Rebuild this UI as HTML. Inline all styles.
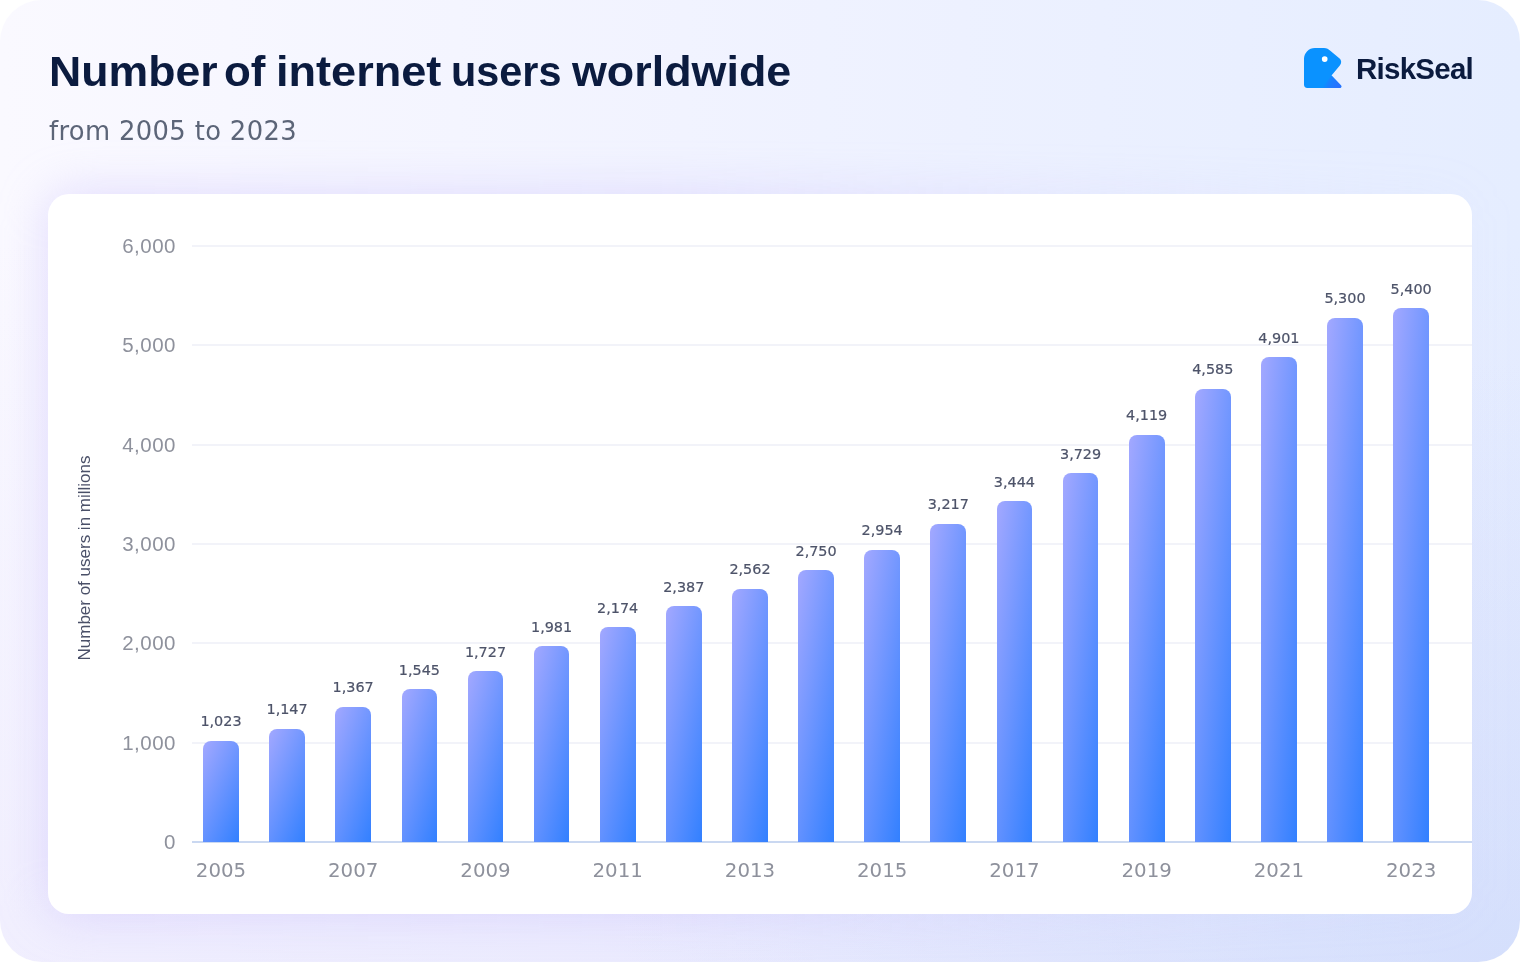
<!DOCTYPE html>
<html lang="en"><head><meta charset="utf-8"><title>Number of internet users worldwide</title>
<style>
html,body{margin:0;padding:0;background:#fff;}
body{width:1520px;height:970px;position:relative;overflow:hidden;font-family:"Liberation Sans",sans-serif;}
.wrap{position:absolute;left:0;top:0;width:1520px;height:962px;border-radius:42px;overflow:hidden;
background:radial-gradient(ellipse 900px 600px at 100% 100%,rgba(196,214,250,0.45) 0%,rgba(196,214,250,0) 100%),linear-gradient(180deg,rgba(220,216,252,0) 0%,rgba(220,216,252,0) 25%,rgba(220,216,252,0.32) 100%),linear-gradient(90deg,#faf9ff 0%,#f1f3ff 45%,#e5edff 100%);}
.glow{position:absolute;left:48px;top:194px;width:1424px;height:720px;border-radius:24px;background:linear-gradient(90deg,rgba(190,175,250,0.42) 0%,rgba(190,175,250,0.36) 45%,rgba(195,190,250,0.10) 85%,rgba(195,190,250,0.04) 100%);filter:blur(24px);}
.card{position:absolute;left:48px;top:194px;width:1424px;height:720px;border-radius:21px;background:#fff;}
.title{position:absolute;left:49.2px;top:48px;font-size:42.3px;font-weight:700;color:#0b1b3f;white-space:nowrap;line-height:48px;letter-spacing:0px;}
.title span{position:absolute;top:0;display:block;transform-origin:0 0;}
.sub{position:absolute;left:49px;top:114.6px;letter-spacing:0.36px;font-family:"DejaVu Sans","Liberation Sans",sans-serif;font-size:25.8px;color:#5c6578;white-space:nowrap;line-height:32px;}
.logo{position:absolute;left:1303.9px;top:47.9px;width:38px;height:40px;}
.brand{position:absolute;left:1356px;top:50.5px;font-size:29.5px;font-weight:700;color:#0b1b3f;white-space:nowrap;line-height:36px;letter-spacing:-0.75px;}
.gl{position:absolute;left:192px;width:1280px;height:2px;background:#f2f3f9;}
.base{position:absolute;left:192px;width:1280px;top:841px;height:2px;background:#cad8f1;}
.yl{position:absolute;left:76px;width:100px;text-align:right;font-size:20.5px;line-height:28px;color:#8e919c;white-space:nowrap;letter-spacing:0.5px;}
.xl{position:absolute;top:856.7px;width:80px;text-align:center;font-family:"DejaVu Sans","Liberation Sans",sans-serif;font-size:19.8px;line-height:28px;color:#8e919c;white-space:nowrap;}
.vl{position:absolute;width:80px;text-align:center;font-family:"DejaVu Sans","Liberation Sans",sans-serif;font-size:14.4px;line-height:20px;color:#4d5369;white-space:nowrap;-webkit-text-stroke:0.2px #4d5369;}
.bar{position:absolute;width:35.8px;border-radius:8px 8px 0 0;background:linear-gradient(to bottom right,#a3a8ff,#2e7eff);}
.yt{position:absolute;left:85px;top:558px;width:0;height:0;}
.yt span{position:absolute;left:-150px;top:-10px;width:300px;height:20px;line-height:20px;text-align:center;font-size:17px;color:#4a5068;transform:rotate(-90deg);white-space:nowrap;display:block;}
</style></head><body>
<div class="wrap">
<div class="glow"></div>
<div class="title"><span style="left:-0.7px;transform:scaleX(1.055)">Number</span> <span style="left:175.1px;transform:scaleX(1.038)">of</span> <span style="left:226.7px;transform:scaleX(1.066)">internet</span> <span style="left:402px;transform:scaleX(0.979)">users</span> <span style="left:523.2px;transform:scaleX(1.06)">worldwide</span></div>
<div class="sub">from 2005 to 2023</div>
<svg class="logo" viewBox="0 0 38 40">
<defs><linearGradient id="lg" gradientUnits="userSpaceOnUse" x1="21" y1="33" x2="34" y2="40"><stop offset="0" stop-color="#0a92ff"/><stop offset="0.35" stop-color="#1a80ff"/><stop offset="1" stop-color="#2a70ff"/></linearGradient></defs>
<path d="M0 10.8 A10.8 10.8 0 0 1 10.8 0 L20 0 C22.8 0 24.6 1.2 26.3 2.7 L35.3 10.3 C37.6 12.3 37.8 15.2 35.8 17.5 L27.5 27.5 L36.8 37.2 C38 38.6 37.2 40 35.6 40 L3.4 40 A3.4 3.4 0 0 1 0 36.6 Z" fill="#0a92ff"/>
<path d="M27.5 27.5 L36.8 37.2 C38 38.6 37.2 40 35.6 40 L17.6 40 Z" fill="url(#lg)"/>
<circle cx="20.7" cy="11.1" r="2.85" fill="#fff"/>
</svg>
<div class="brand">RiskSeal</div>
<div class="card"></div>
<div class="gl" style="top:741.7px"></div><div class="gl" style="top:642.3px"></div><div class="gl" style="top:543.0px"></div><div class="gl" style="top:443.7px"></div><div class="gl" style="top:344.4px"></div><div class="gl" style="top:245.0px"></div>
<div class="base"></div>
<div class="yl" style="top:828.0px">0</div><div class="yl" style="top:728.7px">1,000</div><div class="yl" style="top:629.3px">2,000</div><div class="yl" style="top:530.0px">3,000</div><div class="yl" style="top:430.7px">4,000</div><div class="yl" style="top:331.4px">5,000</div><div class="yl" style="top:232.0px">6,000</div>
<div class="bar" style="left:203.1px;top:740.8px;height:101.2px;background:linear-gradient(115.3deg,#a3a8ff,#3280ff)"></div><div class="bar" style="left:269.2px;top:728.6px;height:113.4px;background:linear-gradient(112.8deg,#a3a8ff,#3280ff)"></div><div class="bar" style="left:335.3px;top:706.8px;height:135.2px;background:linear-gradient(109.4deg,#a3a8ff,#3280ff)"></div><div class="bar" style="left:401.5px;top:689.2px;height:152.8px;background:linear-gradient(107.3deg,#a3a8ff,#3280ff)"></div><div class="bar" style="left:467.6px;top:671.2px;height:170.8px;background:linear-gradient(105.6deg,#a3a8ff,#3280ff)"></div><div class="bar" style="left:533.7px;top:646.1px;height:195.9px;background:linear-gradient(103.7deg,#a3a8ff,#3280ff)"></div><div class="bar" style="left:599.8px;top:627.0px;height:215.0px;background:linear-gradient(102.5deg,#a3a8ff,#3280ff)"></div><div class="bar" style="left:665.9px;top:605.9px;height:236.1px;background:linear-gradient(101.4deg,#a3a8ff,#3280ff)"></div><div class="bar" style="left:732.1px;top:588.6px;height:253.4px;background:linear-gradient(100.7deg,#a3a8ff,#3280ff)"></div><div class="bar" style="left:798.2px;top:570.0px;height:272.0px;background:linear-gradient(100.0deg,#a3a8ff,#3280ff)"></div><div class="bar" style="left:864.3px;top:549.8px;height:292.2px;background:linear-gradient(99.3deg,#a3a8ff,#3280ff)"></div><div class="bar" style="left:930.4px;top:523.8px;height:318.2px;background:linear-gradient(98.5deg,#a3a8ff,#3280ff)"></div><div class="bar" style="left:996.5px;top:501.4px;height:340.6px;background:linear-gradient(98.0deg,#a3a8ff,#3280ff)"></div><div class="bar" style="left:1062.7px;top:473.2px;height:368.8px;background:linear-gradient(97.4deg,#a3a8ff,#3280ff)"></div><div class="bar" style="left:1128.8px;top:434.6px;height:407.4px;background:linear-gradient(96.7deg,#a3a8ff,#3280ff)"></div><div class="bar" style="left:1194.9px;top:388.5px;height:453.5px;background:linear-gradient(96.0deg,#a3a8ff,#3280ff)"></div><div class="bar" style="left:1261.0px;top:357.3px;height:484.7px;background:linear-gradient(95.6deg,#a3a8ff,#3280ff)"></div><div class="bar" style="left:1327.1px;top:317.8px;height:524.2px;background:linear-gradient(95.2deg,#a3a8ff,#3280ff)"></div><div class="bar" style="left:1393.3px;top:307.9px;height:534.1px;background:linear-gradient(95.1deg,#a3a8ff,#3280ff)"></div>
<div class="vl" style="left:181.0px;top:711.4px">1,023</div><div class="vl" style="left:247.1px;top:699.2px">1,147</div><div class="vl" style="left:313.2px;top:677.4px">1,367</div><div class="vl" style="left:379.4px;top:659.8px">1,545</div><div class="vl" style="left:445.5px;top:641.8px">1,727</div><div class="vl" style="left:511.6px;top:616.7px">1,981</div><div class="vl" style="left:577.7px;top:597.6px">2,174</div><div class="vl" style="left:643.8px;top:576.5px">2,387</div><div class="vl" style="left:710.0px;top:559.2px">2,562</div><div class="vl" style="left:776.1px;top:540.6px">2,750</div><div class="vl" style="left:842.2px;top:520.4px">2,954</div><div class="vl" style="left:908.3px;top:494.4px">3,217</div><div class="vl" style="left:974.4px;top:472.0px">3,444</div><div class="vl" style="left:1040.6px;top:443.8px">3,729</div><div class="vl" style="left:1106.7px;top:405.2px">4,119</div><div class="vl" style="left:1172.8px;top:359.1px">4,585</div><div class="vl" style="left:1238.9px;top:327.9px">4,901</div><div class="vl" style="left:1305.0px;top:288.4px">5,300</div><div class="vl" style="left:1371.2px;top:278.5px">5,400</div>
<div class="xl" style="left:181.0px">2005</div><div class="xl" style="left:313.2px">2007</div><div class="xl" style="left:445.5px">2009</div><div class="xl" style="left:577.7px">2011</div><div class="xl" style="left:710.0px">2013</div><div class="xl" style="left:842.2px">2015</div><div class="xl" style="left:974.4px">2017</div><div class="xl" style="left:1106.7px">2019</div><div class="xl" style="left:1238.9px">2021</div><div class="xl" style="left:1371.2px">2023</div>
<div class="yt"><span>Number of users in millions</span></div>
</div>
</body></html>
